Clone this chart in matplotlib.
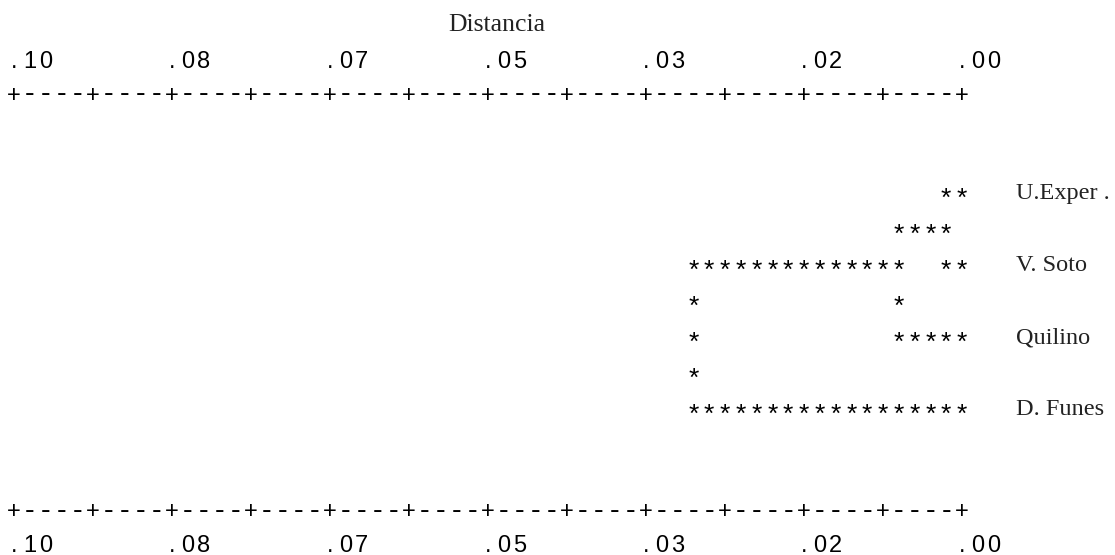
# Dendrograma en texto (estilo salida de consola)

import matplotlib
matplotlib.use("Agg")
import matplotlib.pyplot as plt

# datos
names = ["U.Exper .", "V. Soto", "Quilino", "D. Funes"]
tick_labels = [".10", ".08", ".07", ".05", ".03", ".02", ".00"]
max_dist = 0.10
# uniones: (cluster a, cluster b, distancia); clusters nuevos = 4, 5, 6
merges = [(0, 1, 0.0017), (4, 2, 0.0067), (5, 3, 0.0283)]

# rejilla de caracteres
n_cols = 60          # columnas de la regla (0..60)
col_w = 15.8         # px por caracter
x0 = 14              # px de la columna 0
row_top = 191        # px de la primera fila del arbol
row_h = 36           # px entre filas

mono = "Liberation Sans"
serif = "Liberation Serif"
mono_size = 17
star_size = 19
dash_size = 21
name_size = 17.5


def em(size):
    return size * 100 / 72


def dist_to_col(d):
    return int(round(n_cols - d / max_dist * n_cols))


fig = plt.figure(figsize=(11.15, 5.55), dpi=100)
ax = fig.add_axes([0, 0, 1, 1])
ax.set_xlim(-x0 / col_w, (1115 - x0) / col_w)
ax.set_ylim(555, 0)
ax.axis("off")


def put_chars(text, col, y):
    # cada caracter centrado en su columna
    for i, ch in enumerate(text):
        if ch == " ":
            continue
        if ch == "*":
            size, dy = star_size, 0.58 * em(star_size)
        elif ch == "-":
            size, dy = dash_size, 0.30 * em(dash_size)
        else:
            size, dy = mono_size, 0.36 * em(mono_size)
        ax.text(col + i, y + dy, ch, family=mono, fontsize=size,
                ha="center", va="baseline", color="black")


# encabezado y reglas
ax.text((497 - x0) / col_w, 23 + 0.33 * em(18.5), "Distancia",
        family=serif, fontsize=18.5, ha="center", va="baseline",
        color="#222222")
ruler = "".join("+" if c % 5 == 0 else "-" for c in range(n_cols + 1))
label_cols = [i * 10 for i in range(len(tick_labels))]
for y_lab, y_rul in [(59, 93), (543, 510)]:
    put_chars(ruler, 0, y_rul)
    for lab, c in zip(tick_labels, label_cols):
        put_chars(lab, c, y_lab)

# arbol
stars = set()
rows = {i: 2 * i for i in range(len(names))}
start = {i: n_cols for i in range(len(names))}
next_id = len(names)
for a, b, d in merges:
    c = dist_to_col(d)
    for k in (a, b):
        for cc in range(c, start[k] + 1):
            stars.add((cc, rows[k]))
    r1, r2 = sorted((rows[a], rows[b]))
    for r in range(r1, r2 + 1):
        stars.add((c, r))
    rows[next_id] = (r1 + r2) // 2
    start[next_id] = c
    next_id += 1

for cc, r in sorted(stars):
    put_chars("*", cc, row_top + r * row_h)

for i, name in enumerate(names):
    ax.text((1016 - x0) / col_w, row_top + 2 * i * row_h + 0.33 * em(name_size),
            name, family=serif, fontsize=name_size, ha="left", va="baseline",
            color="#222222")

fig.savefig("out.png", dpi=100)
